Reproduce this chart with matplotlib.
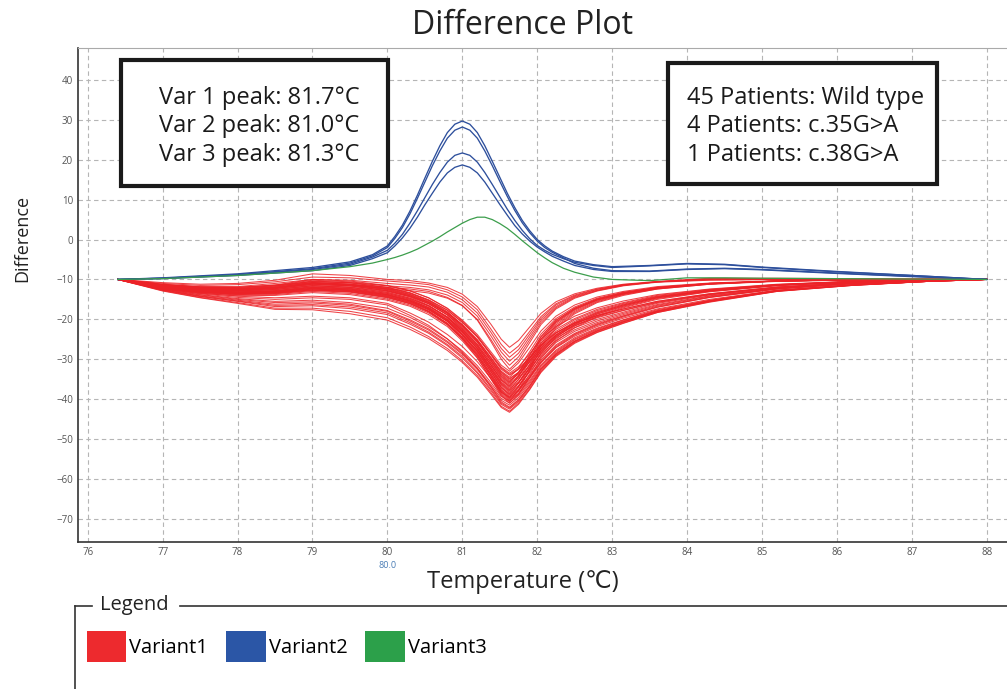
import matplotlib
matplotlib.use("Agg")
import matplotlib.pyplot as plt
from matplotlib.patches import Rectangle, Patch
from matplotlib.lines import Line2D
import matplotlib.transforms as mtransforms

plt.rcParams['font.family'] = ['Open Sans', 'DejaVu Sans']

W, H = 1007, 689

# temperature grid for the variant 1 curves
temp_v1 = [76.4, 77.0, 77.5, 78.0, 78.5, 79.0, 79.5, 80.0, 80.3, 80.55, 80.8, 81.0,
           81.2, 81.38, 81.52, 81.63, 81.75, 81.9, 82.05, 82.25, 82.5, 82.8, 83.15,
           83.6, 84.3, 85.2, 86.2, 87.2, 88.0]

# variant 1 (wild type), shallow / late curves
v1_upper = [
    [-10, -10.8, -11.2, -11.0, -10.2, -8.6, -9.0, -10.0, -10.3, -10.9, -12.0, -13.7, -16.8, -21.2, -25.0, -27.0, -25.3, -21.9, -18.5, -15.6, -13.6, -12.2, -11.2, -10.5, -9.7, -9.7, -9.8, -9.9, -10],
    [-10, -11.0, -11.5, -11.3, -10.6, -9.4, -9.6, -10.4, -10.8, -11.3, -12.6, -14.4, -17.6, -22.4, -26.3, -28.5, -26.7, -23.0, -19.3, -16.1, -13.9, -12.4, -11.3, -10.6, -9.8, -9.8, -9.9, -9.9, -10],
    [-10, -11.2, -11.8, -11.8, -11.0, -10.0, -10.2, -11.0, -11.4, -11.9, -13.2, -15.1, -18.4, -23.2, -27.3, -29.5, -27.6, -23.7, -19.8, -16.4, -14.1, -12.5, -11.4, -10.6, -9.9, -9.9, -9.9, -10.0, -10],
    [-10, -11.3, -12.0, -12.0, -11.4, -10.6, -10.8, -11.6, -12.0, -12.6, -13.9, -15.8, -19.2, -24.1, -28.2, -30.5, -28.5, -24.4, -20.3, -16.8, -14.3, -12.7, -11.4, -10.6, -10.0, -9.9, -9.9, -10.0, -10],
    [-10, -11.5, -12.2, -12.5, -12.0, -11.0, -11.4, -12.4, -12.8, -13.4, -14.7, -16.6, -20.0, -25.0, -29.2, -31.5, -29.4, -25.1, -20.8, -17.1, -14.5, -12.8, -11.5, -10.6, -10.1, -10.0, -10.0, -10.0, -10],
    [-10, -11.4, -12.0, -12.2, -11.6, -10.8, -11.2, -12.0, -12.4, -13.0, -14.5, -16.5, -20.2, -25.5, -30.0, -32.5, -30.3, -25.8, -21.3, -17.4, -14.7, -12.9, -11.6, -10.7, -10.2, -10.0, -10.0, -10.0, -10],
]

# variant 1, main bundle
v1_mid = [
    [-10, -11.3, -11.9, -12.0, -11.5, -10.2, -10.6, -11.6, -12.9, -14.6, -17.2, -20.2, -23.8, -28.1, -31.5, -33.0, -30.9, -27.0, -22.9, -19.2, -16.4, -14.4, -13.0, -11.8, -10.9, -10.3, -10.1, -10.0, -10],
    [-10, -11.5, -12.2, -12.4, -12.0, -10.8, -11.2, -12.2, -13.5, -15.2, -17.7, -20.7, -24.3, -28.6, -32.0, -33.5, -31.9, -28.6, -25.0, -21.8, -19.2, -17.1, -15.4, -13.8, -12.4, -11.2, -10.5, -10.2, -10],
    [-10, -11.4, -12.0, -12.3, -11.8, -10.5, -10.9, -12.0, -13.3, -15.1, -17.7, -20.8, -24.5, -28.9, -32.5, -34.0, -32.6, -29.7, -26.6, -23.4, -21.0, -19.1, -17.4, -15.5, -13.6, -11.9, -10.8, -10.3, -10],
    [-10, -11.6, -12.4, -12.7, -12.2, -11.2, -11.6, -12.8, -14.1, -15.8, -18.4, -21.5, -25.2, -29.5, -33.0, -34.5, -32.3, -28.1, -23.7, -19.8, -16.9, -14.7, -13.2, -12.0, -11.0, -10.4, -10.1, -10.0, -10],
    [-10, -11.5, -12.3, -12.6, -12.0, -10.9, -11.3, -12.5, -13.9, -15.7, -18.4, -21.5, -25.3, -29.8, -33.4, -35.0, -33.3, -29.8, -26.0, -22.5, -19.8, -17.5, -15.8, -14.0, -12.5, -11.3, -10.5, -10.2, -10],
    [-10, -11.7, -12.5, -12.9, -12.5, -11.5, -11.9, -13.0, -14.3, -16.1, -18.8, -21.9, -25.7, -30.2, -33.7, -35.3, -33.8, -30.7, -27.5, -24.2, -21.6, -19.6, -17.8, -15.8, -13.8, -12.0, -10.9, -10.3, -10],
    [-10, -11.4, -12.1, -12.3, -11.7, -10.4, -10.8, -12.0, -13.4, -15.3, -18.1, -21.4, -25.5, -30.2, -33.9, -35.6, -33.3, -28.9, -24.3, -20.2, -17.2, -14.9, -13.3, -12.0, -11.0, -10.4, -10.1, -10.0, -10],
    [-10, -11.8, -12.7, -13.1, -12.8, -11.9, -12.3, -13.5, -14.9, -16.7, -19.4, -22.5, -26.3, -30.8, -34.4, -36.0, -34.2, -30.5, -26.6, -23.0, -20.1, -17.8, -16.0, -14.2, -12.6, -11.3, -10.5, -10.2, -10],
    [-10, -11.6, -12.4, -12.7, -12.3, -11.3, -11.6, -12.8, -14.2, -16.1, -18.9, -22.2, -26.2, -30.9, -34.7, -36.3, -34.7, -31.6, -28.1, -24.7, -22.1, -20.0, -18.2, -16.0, -13.9, -12.1, -10.9, -10.3, -10],
    [-10, -11.9, -12.8, -13.3, -13.0, -12.2, -12.6, -13.8, -15.2, -17.0, -19.7, -22.9, -26.8, -31.4, -35.0, -36.6, -34.2, -29.7, -24.9, -20.6, -17.4, -15.1, -13.5, -12.1, -11.1, -10.4, -10.1, -10.0, -10],
    [-10, -11.5, -12.3, -12.6, -12.1, -11.0, -11.4, -12.6, -14.1, -16.0, -18.9, -22.4, -26.5, -31.4, -35.3, -37.0, -35.1, -31.3, -27.3, -23.5, -20.5, -18.1, -16.2, -14.3, -12.7, -11.4, -10.5, -10.2, -10],
    [-10, -12.0, -12.9, -13.4, -13.2, -12.4, -12.8, -14.0, -15.4, -17.3, -20.1, -23.3, -27.3, -31.9, -35.7, -37.3, -35.7, -32.4, -28.8, -25.3, -22.6, -20.4, -18.5, -16.3, -14.1, -12.2, -11.0, -10.3, -10],
    [-10, -11.7, -12.5, -12.9, -12.5, -11.6, -12.0, -13.2, -14.7, -16.6, -19.5, -23.0, -27.1, -32.0, -35.9, -37.6, -35.1, -30.4, -25.5, -21.0, -17.7, -15.2, -13.6, -12.2, -11.1, -10.4, -10.1, -10.0, -10],
    [-10, -12.1, -13.1, -13.6, -13.4, -12.6, -13.0, -14.3, -15.7, -17.6, -20.5, -23.8, -27.8, -32.5, -36.3, -38.0, -36.0, -32.1, -27.9, -24.0, -20.9, -18.4, -16.4, -14.5, -12.8, -11.4, -10.6, -10.2, -10],
    [-10, -11.6, -12.4, -12.8, -12.3, -11.2, -11.6, -12.9, -14.4, -16.5, -19.5, -23.1, -27.4, -32.5, -36.5, -38.3, -36.6, -33.2, -29.5, -25.8, -23.0, -20.8, -18.8, -16.5, -14.2, -12.3, -11.0, -10.3, -10],
    [-10, -12.0, -12.9, -13.4, -13.1, -12.2, -12.6, -13.9, -15.4, -17.4, -20.3, -23.8, -28.0, -32.9, -36.9, -38.6, -36.0, -31.2, -26.0, -21.4, -18.0, -15.4, -13.7, -12.3, -11.1, -10.4, -10.1, -10.0, -10],
    [-10, -11.8, -12.7, -13.2, -12.8, -11.8, -12.2, -13.5, -15.0, -17.1, -20.1, -23.7, -28.0, -33.1, -37.2, -39.0, -37.0, -32.9, -28.6, -24.5, -21.3, -18.7, -16.7, -14.6, -12.9, -11.5, -10.6, -10.2, -10],
    [-10, -12.2, -13.2, -13.8, -13.6, -12.8, -13.2, -14.6, -16.1, -18.1, -21.0, -24.5, -28.7, -33.6, -37.6, -39.3, -37.5, -34.0, -30.2, -26.4, -23.5, -21.1, -19.1, -16.7, -14.4, -12.3, -11.0, -10.4, -10],
    [-10, -11.9, -12.8, -13.3, -13.0, -12.0, -12.4, -13.8, -15.4, -17.4, -20.5, -24.1, -28.5, -33.7, -37.8, -39.6, -36.9, -31.9, -26.6, -21.8, -18.3, -15.6, -13.8, -12.4, -11.2, -10.4, -10.1, -10.0, -10],
    [-10, -12.3, -13.3, -13.9, -13.8, -13.0, -13.5, -14.9, -16.4, -18.4, -21.4, -24.9, -29.2, -34.2, -38.2, -40.0, -37.9, -33.7, -29.2, -25.0, -21.7, -19.0, -16.9, -14.8, -13.0, -11.5, -10.6, -10.2, -10],
    [-10, -12.0, -13.0, -13.5, -13.3, -12.4, -12.8, -14.2, -15.8, -17.9, -21.0, -24.6, -29.1, -34.3, -38.5, -40.3, -38.5, -34.8, -30.9, -27.0, -23.9, -21.5, -19.4, -17.0, -14.5, -12.4, -11.1, -10.4, -10],
    [-10, -12.4, -13.5, -14.1, -14.0, -13.3, -13.8, -15.2, -16.7, -18.8, -21.8, -25.4, -29.7, -34.8, -38.8, -40.6, -37.8, -32.6, -27.1, -22.2, -18.6, -15.8, -14.0, -12.4, -11.2, -10.5, -10.2, -10.0, -10],
    [-10, -12.1, -13.1, -13.6, -13.4, -12.6, -13.0, -14.4, -16.0, -18.1, -21.3, -25.0, -29.6, -34.9, -39.1, -41.0, -38.8, -34.5, -29.8, -25.5, -22.1, -19.3, -17.1, -15.0, -13.1, -11.6, -10.6, -10.2, -10],
    [-10, -11.3, -11.9, -12.0, -11.4, -10.0, -10.4, -11.5, -12.8, -14.6, -17.3, -20.4, -24.2, -28.7, -32.2, -33.8, -32.4, -29.5, -26.4, -23.3, -20.9, -19.0, -17.4, -15.5, -13.6, -11.9, -10.8, -10.3, -10],
    [-10, -11.6, -12.4, -12.6, -12.1, -11.0, -11.3, -12.4, -13.8, -15.7, -18.5, -21.8, -25.7, -30.4, -34.2, -35.8, -33.5, -29.1, -24.4, -20.3, -17.2, -14.9, -13.4, -12.1, -11.0, -10.4, -10.1, -10.0, -10],
    [-10, -11.9, -12.8, -13.2, -12.9, -12.0, -12.4, -13.7, -15.2, -17.1, -20.0, -23.3, -27.4, -32.3, -36.1, -37.8, -35.9, -32.0, -27.8, -23.9, -20.8, -18.3, -16.4, -14.4, -12.8, -11.4, -10.6, -10.2, -10],
    [-10, -12.2, -13.2, -13.7, -13.5, -12.7, -13.1, -14.5, -16.0, -18.0, -21.1, -24.6, -28.9, -34.0, -38.0, -39.8, -38.0, -34.4, -30.6, -26.7, -23.7, -21.3, -19.2, -16.9, -14.5, -12.4, -11.0, -10.4, -10],
    [-10, -11.7, -12.6, -13.0, -12.6, -11.6, -12.0, -13.3, -14.7, -16.6, -19.4, -22.7, -26.7, -31.4, -35.2, -36.8, -34.4, -29.8, -25.0, -20.7, -17.5, -15.1, -13.5, -12.1, -11.1, -10.4, -10.1, -10.0, -10],
    [-10, -12.0, -13.0, -13.5, -13.2, -12.3, -12.7, -14.1, -15.6, -17.6, -20.5, -24.0, -28.2, -33.1, -37.1, -38.8, -36.8, -32.8, -28.4, -24.4, -21.2, -18.6, -16.6, -14.6, -12.9, -11.4, -10.6, -10.2, -10],
    [-10, -11.5, -12.2, -12.5, -12.0, -10.8, -11.2, -12.3, -13.7, -15.5, -18.2, -21.3, -25.1, -29.6, -33.2, -34.8, -33.3, -30.3, -27.1, -23.9, -21.4, -19.4, -17.7, -15.7, -13.7, -12.0, -10.9, -10.3, -10],
]

# variant 1, deep curves with a low shoulder
v1_low = [
    [-10, -12.4, -13.8, -14.8, -15.5, -15.2, -15.8, -17.2, -19.5, -21.9, -24.9, -27.9, -31.6, -35.8, -39.3, -40.5, -38.7, -35.3, -31.4, -27.7, -24.6, -22.2, -20.1, -17.6, -15.2, -12.7, -11.4, -10.5, -10],
    [-10, -12.6, -14.1, -15.2, -16.2, -15.9, -16.5, -18.0, -20.4, -22.7, -25.8, -28.8, -32.6, -36.8, -40.3, -41.5, -39.6, -36.1, -32.1, -28.3, -25.1, -22.6, -20.4, -17.9, -15.4, -12.8, -11.4, -10.5, -10],
    [-10, -12.7, -14.3, -15.5, -16.8, -16.6, -17.3, -18.8, -21.2, -23.5, -26.6, -29.7, -33.5, -37.8, -41.3, -42.5, -40.6, -37.0, -32.8, -28.9, -25.6, -23.0, -20.7, -18.1, -15.5, -12.9, -11.5, -10.5, -10],
    [-10, -12.8, -14.5, -15.8, -17.2, -17.2, -18.0, -19.6, -21.9, -24.3, -27.3, -30.4, -34.1, -38.3, -41.8, -43.0, -41.0, -37.4, -33.1, -29.1, -25.8, -23.2, -20.9, -18.3, -15.6, -13.0, -11.5, -10.5, -10],
    [-10, -12.5, -13.9, -15.0, -15.8, -15.6, -16.2, -17.8, -20.1, -22.4, -25.5, -28.5, -32.2, -36.4, -39.8, -41.0, -39.1, -35.7, -31.7, -28.0, -24.9, -22.4, -20.2, -17.8, -15.3, -12.8, -11.4, -10.5, -10],
    [-10, -12.3, -13.6, -14.5, -15.0, -14.6, -15.0, -16.4, -19.0, -21.5, -24.9, -28.2, -32.3, -36.9, -40.7, -42.0, -40.1, -36.6, -32.4, -28.6, -25.4, -22.8, -20.6, -18.0, -15.4, -12.9, -11.4, -10.5, -10],
    [-10, -12.2, -13.4, -14.2, -14.6, -14.2, -14.6, -16.0, -18.4, -20.7, -23.8, -26.8, -30.6, -34.8, -38.3, -39.5, -37.7, -34.5, -30.7, -27.1, -24.2, -21.8, -19.7, -17.4, -15.0, -12.7, -11.3, -10.4, -10],
    [-10, -12.9, -14.6, -16.0, -17.5, -17.6, -18.6, -20.2, -22.5, -24.8, -27.8, -30.8, -34.5, -38.7, -42.1, -43.3, -41.3, -37.6, -33.3, -29.3, -26.0, -23.3, -21.0, -18.3, -15.7, -13.0, -11.5, -10.5, -10],
    [-10, -12.6, -14.2, -15.4, -16.5, -16.3, -16.9, -18.4, -20.8, -23.2, -26.3, -29.3, -33.2, -37.4, -41.0, -42.2, -40.3, -36.7, -32.5, -28.7, -25.5, -22.9, -20.6, -18.1, -15.5, -12.9, -11.4, -10.5, -10],
]

# temperature grid for variants 2 and 3
temp_v23 = [76.4, 77, 78, 79, 79.5, 79.8, 80.0, 80.1, 80.2, 80.3, 80.4, 80.5, 80.6,
            80.7, 80.8, 80.9, 81.0, 81.1, 81.2, 81.3, 81.4, 81.5, 81.6, 81.7, 81.8,
            81.9, 82.0, 82.1, 82.2, 82.35, 82.5, 82.75, 83, 83.5, 84, 84.5, 85, 86, 87, 88]

# variant 2 (c.35G>A), 4 patients
v2_curves = [
    [-10, -9.6, -8.6, -7.0, -5.6, -3.8, -1.6, 0.8, 3.6, 7.1, 11.1, 15.4, 19.6, 23.5, 26.8, 28.9, 29.7, 28.9, 26.8, 23.5, 19.6, 15.6, 11.6, 8.0, 4.8, 2.2, 0.0, -1.6, -2.9, -4.3, -5.4, -6.3, -6.8, -6.5, -6.0, -6.2, -6.9, -8.0, -9.0, -10],
    [-10, -9.7, -8.8, -7.3, -5.9, -4.1, -2.0, 0.3, 3.0, 6.4, 10.3, 14.4, 18.5, 22.2, 25.4, 27.4, 28.2, 27.4, 25.4, 22.2, 18.5, 14.6, 10.8, 7.3, 4.2, 1.7, -0.4, -2.0, -3.2, -4.6, -6.0, -7.2, -7.8, -7.9, -7.4, -7.2, -7.5, -8.4, -9.2, -10],
    [-10, -9.7, -8.9, -7.5, -6.2, -4.4, -2.7, -0.9, 1.3, 4.1, 7.2, 10.5, 13.8, 16.8, 19.4, 21.1, 21.7, 21.1, 19.4, 16.8, 13.8, 10.7, 7.6, 4.8, 2.3, 0.2, -1.5, -2.7, -3.7, -4.8, -5.7, -6.5, -7.0, -6.6, -6.1, -6.3, -7.0, -8.1, -9.0, -10],
    [-10, -9.8, -9.0, -7.8, -6.5, -4.8, -3.3, -1.6, 0.4, 2.8, 5.6, 8.7, 11.6, 14.4, 16.7, 18.1, 18.7, 18.1, 16.7, 14.4, 11.6, 8.8, 6.1, 3.5, 1.4, -0.4, -1.9, -3.1, -4.2, -5.4, -6.5, -7.5, -8.0, -8.0, -7.5, -7.3, -7.6, -8.5, -9.3, -10],
]

# variant 3 (c.38G>A), 1 patient
v3_curve = [-10, -9.8, -9.0, -7.8, -6.8, -5.9, -5.0, -4.5, -3.9, -3.2, -2.4, -1.4, -0.4,
            0.7, 1.9, 3.0, 4.1, 5.0, 5.6, 5.6, 5.0, 4.0, 2.8, 1.3, -0.3, -1.8, -3.3,
            -4.6, -5.8, -7.2, -8.2, -9.4, -10.0, -10.3, -9.6, -9.6, -9.7, -9.8, -9.9, -10]

y_ticks = [40, 30, 20, 10, 0, -10, -20, -30, -40, -50, -60, -70]
x_ticks = list(range(76, 89))

peak_lines = ["Var 1 peak: 81.7°C", "Var 2 peak: 81.0°C", "Var 3 peak: 81.3°C"]
patient_lines = ["45 Patients: Wild type", "4 Patients: c.35G>A", "1 Patients: c.38G>A"]
legend_names = ["Variant1", "Variant2", "Variant3"]

red = '#ec2227'
blue = '#2d4f9c'
green = '#3c9e4c'


def fx(px):
    return px / W


def fy(py):
    return 1 - py / H


fig = plt.figure(figsize=(W / 100, H / 100), dpi=100)
ax = fig.add_axes([fx(78), fy(542), 1 - fx(78), fy(48) - fy(542)])

for curve in v1_upper + v1_mid + v1_low:
    ax.plot(temp_v1, curve, color=red, lw=0.75, alpha=0.85)
for curve in v2_curves:
    ax.plot(temp_v23, curve, color=blue, lw=0.95)
ax.plot(temp_v23, v3_curve, color=green, lw=0.9)

ax.set_xlim(75.87, 88.27)
ax.set_ylim(-75.8, 48)
ax.set_xticks(x_ticks)
ax.set_yticks(y_ticks)
ax.tick_params(length=0, labelsize=7, labelcolor='#555555', pad=3.5)
ax.grid(True, color='#b5b5b5', lw=0.8, ls=(0, (4, 3)))
ax.set_axisbelow(True)
ax.spines['right'].set_visible(False)
ax.spines['top'].set_color('#aaaaaa')
ax.spines['top'].set_linewidth(0.8)
for s in ['left', 'bottom']:
    ax.spines[s].set_color('#333333')
    ax.spines[s].set_linewidth(1.2)

# cursor value under the 80 tick
trans = mtransforms.blended_transform_factory(ax.transData, fig.transFigure)
ax.text(80, fy(565), "80.0", transform=trans, ha='center', va='center',
        fontsize=6.5, color='#4a7db5')

fig.text(fx(522), fy(25), "Difference Plot", ha='center', va='center',
         fontsize=23, color='#222222')
fig.text(fx(22), fy(238), "Difference", ha='center', va='center', rotation=90,
         fontsize=13, color='#222222')
fig.text(fx(523), fy(582), "Temperature (℃)", ha='center', va='center',
         fontsize=17, color='#222222')

# annotation boxes
fig.add_artist(Rectangle((fx(121), fy(186)), fx(388) - fx(121), fy(60) - fy(186),
                         transform=fig.transFigure, fill=True, fc='white',
                         ec='#1a1a1a', lw=3, zorder=5))
fig.add_artist(Rectangle((fx(668), fy(184)), fx(937) - fx(668), fy(63) - fy(184),
                         transform=fig.transFigure, fill=True, fc='white',
                         ec='#1a1a1a', lw=3, zorder=5))
for i, line in enumerate(peak_lines):
    fig.text(fx(159), fy(98 + 28.5 * i), line, ha='left', va='center',
             fontsize=17, color='#1a1a1a', zorder=6)
for i, line in enumerate(patient_lines):
    fig.text(fx(687), fy(98 + 28.5 * i), line, ha='left', va='center',
             fontsize=17, color='#1a1a1a', zorder=6)

# legend frame
fig.add_artist(Line2D([fx(75), fx(92)], [fy(606), fy(606)], color='#333333', lw=1.2))
fig.add_artist(Line2D([fx(180), 1.0], [fy(606), fy(606)], color='#333333', lw=1.2))
fig.add_artist(Line2D([fx(75), fx(75)], [fy(606), 0], color='#333333', lw=1.2))
fig.text(fx(100), fy(605), "Legend", ha='left', va='center', fontsize=14.5,
         color='#222222')

handles = [Patch(facecolor=c, edgecolor='none') for c in ['#ed2a2e', '#2b56a6', '#2ca04a']]
fig.legend(handles, legend_names, loc='upper left', bbox_to_anchor=(fx(87), fy(631)),
           ncol=3, frameon=False, fontsize=14.5, handlelength=1.95, handleheight=2.0,
           handletextpad=0.15, columnspacing=0.9, borderpad=0, borderaxespad=0)

fig.savefig("out.png", dpi=100)
